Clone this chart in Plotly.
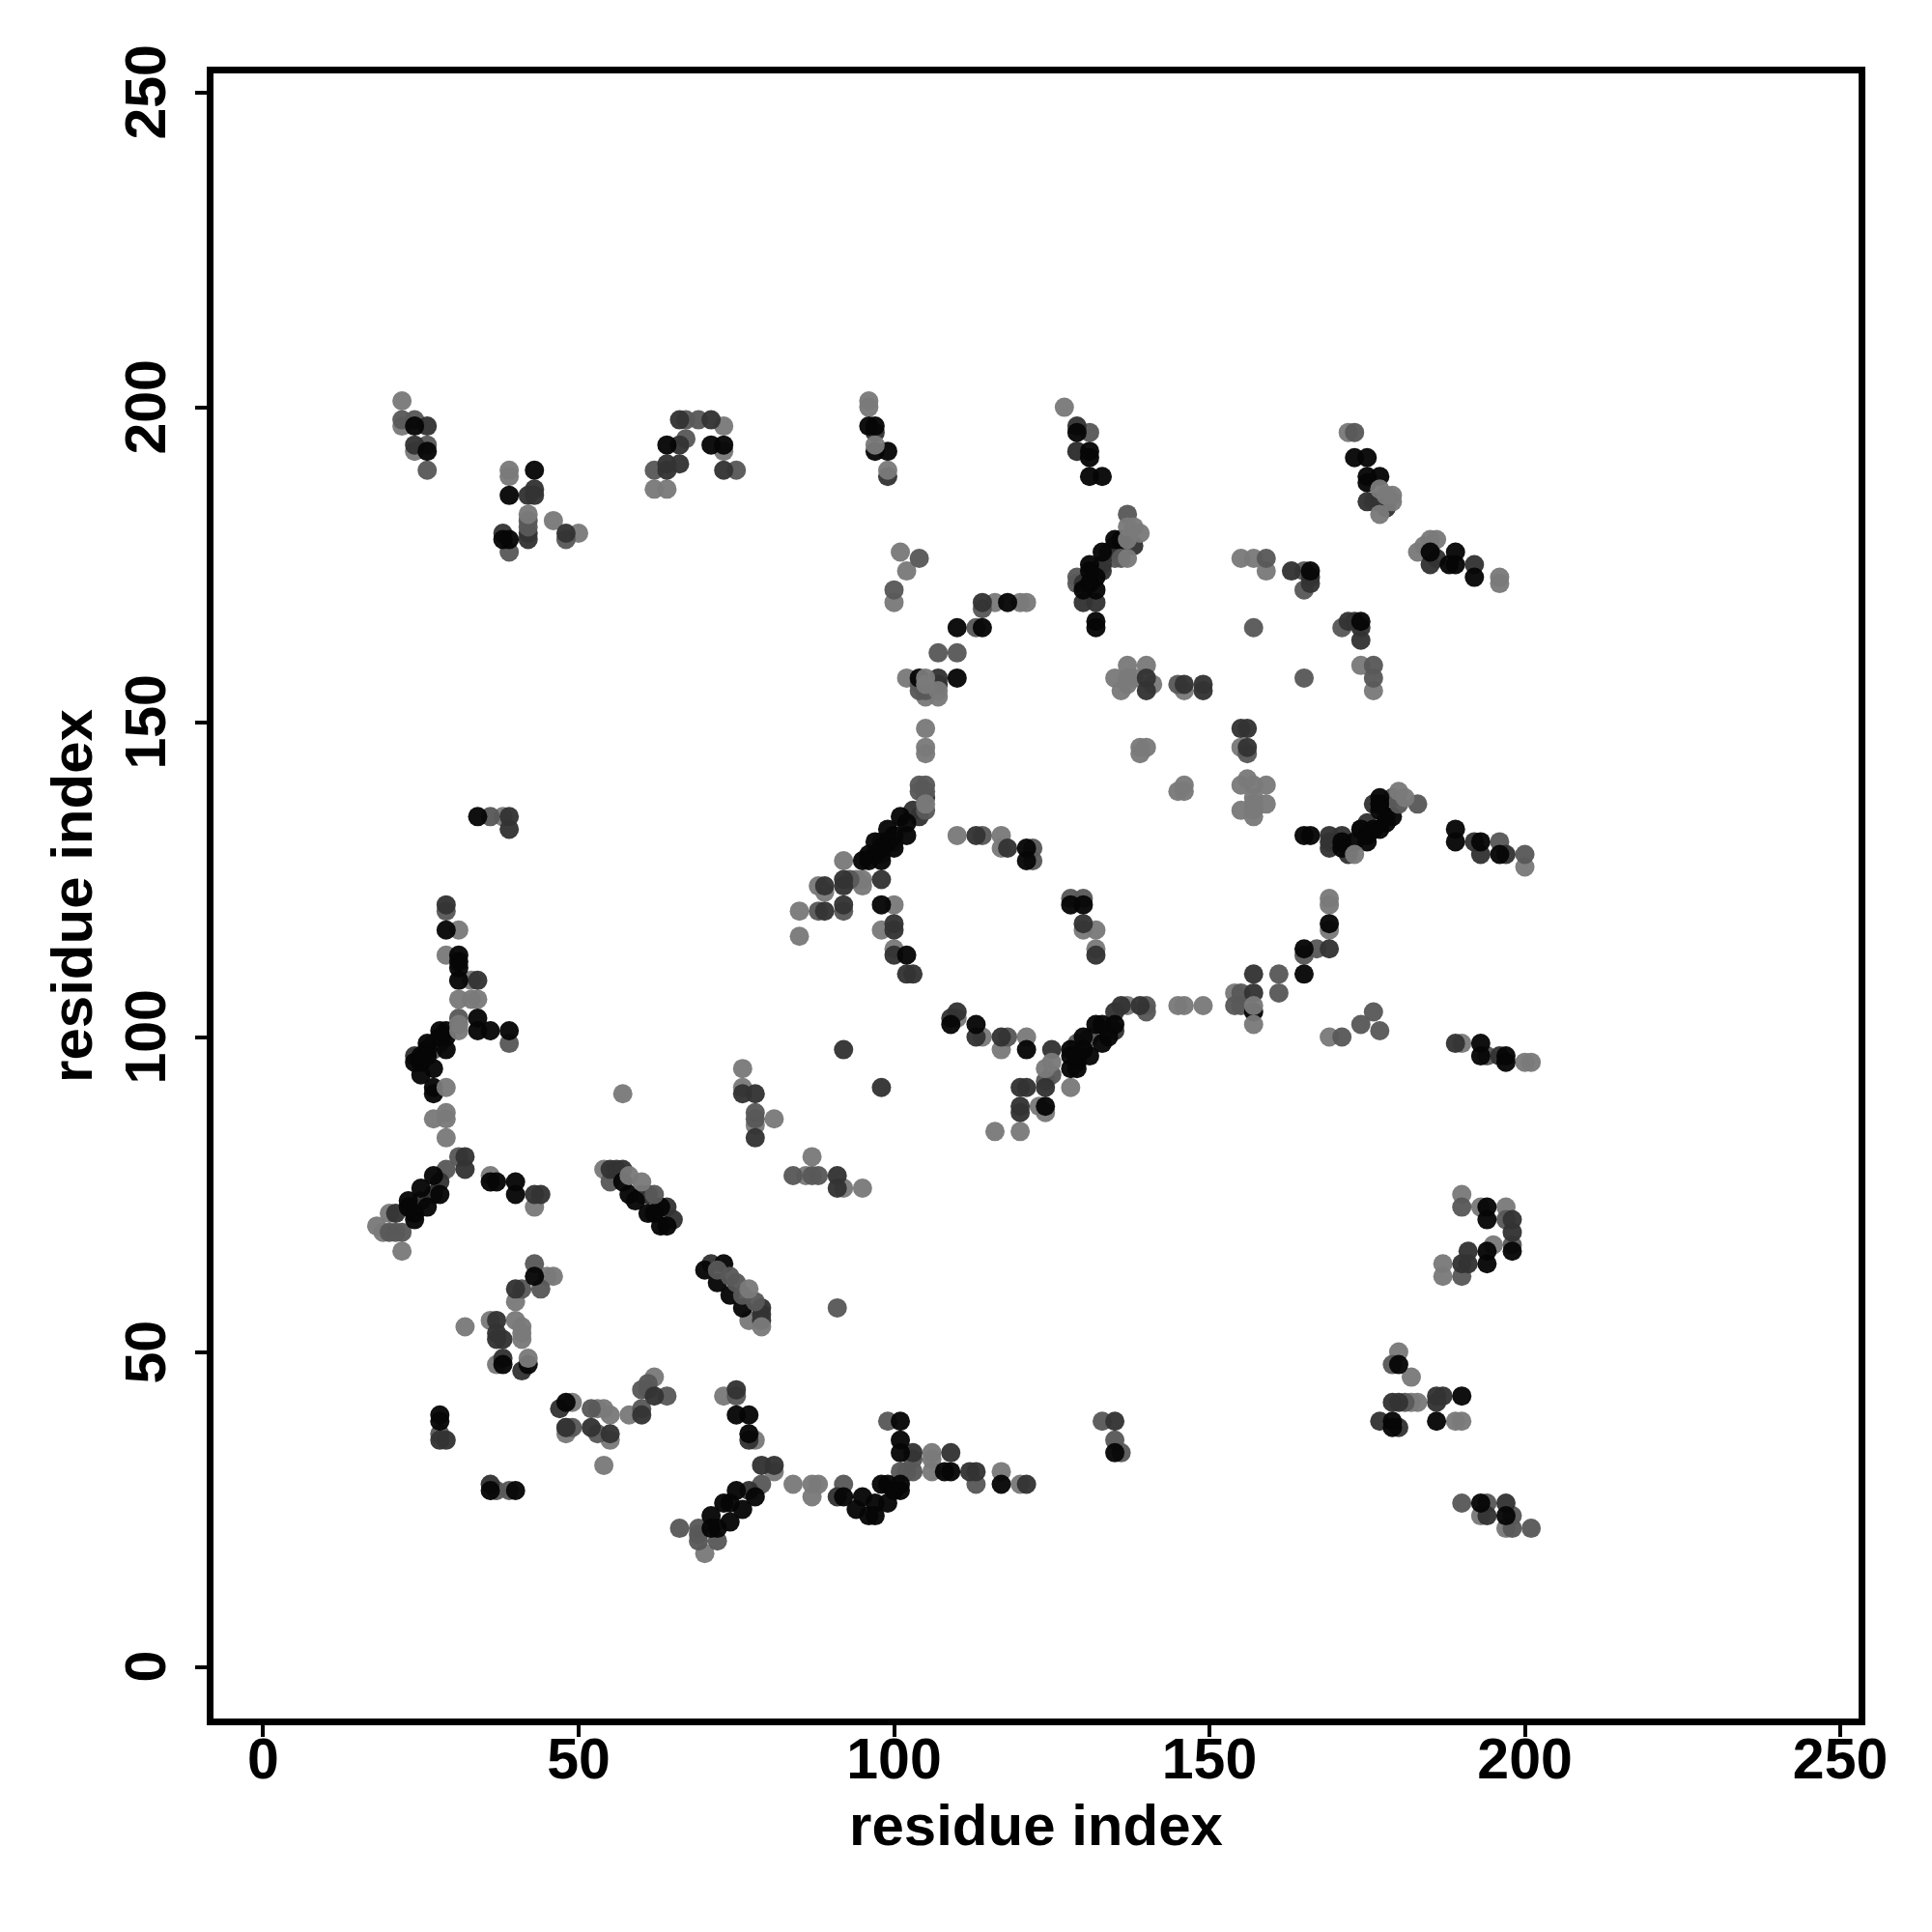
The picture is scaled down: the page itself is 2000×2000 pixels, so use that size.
import plotly.graph_objects as go

light = [(22,201),(22,197),(24,193),(39,190),(39,189),(42,183),(46,182),(50,180),(62,187),(64,187),(73,197),(73,193),(96,201),(96,200),(97,194),(99,190),
(102,174),(100,169),(101,177),(102,157),(105,157),(105,156),(107,155),(105,154),(107,154),(105,146),(105,145),(105,149),(105,137),(92,128),(110,132),(95,125),(94,125),(95,124),(88,124),(89,123),(85,120),(85,116),
(100,121),(98,117),(100,114),(38,135),(31,117),(29,113),(127,200),(137,181),(138,181),(139,180),(137,179),(137,176),(116,169),(120,169),(121,169),
(135,157),(137,159),(140,159),(137,157),(138,157),(141,156),(136,155),(137,156),(146,155),(139,146),(140,146),(139,145),(145,139),(146,140),(146,139),
(155,146),(155,140),(156,141),(159,140),(157,140),(155,136),(157,138),(159,137),(157,137),(157,136),(157,135),(155,176),(157,176),(159,174),(174,159),(176,155),
(172,196),(177,187),(179,186),(179,185),(177,183),(178,186),(183,177),(184,178),(185,179),(186,179),(196,173),(196,172),(180,139),(181,138),(173,129),
(200,127),(117,132),(117,130),(130,117),(132,117),(132,114),(169,122),(169,121),(169,117),
(33,109),(31,106),(33,106),(34,106),(31,101),(31,102),(29,92),(27,87),(29,88),(29,87),(29,84),(76,95),(76,92),(81,87),(78,86),(86,78),(87,81),(92,76),(95,76),
(18,70),(19,69),(20,72),(22,66),(36,78),(43,73),(54,79),(58,78),(60,77),(77,60),(79,54),(77,55),(46,62),(45,62),(40,58),(32,54),(36,55),(40,55),(41,53),(41,52),(41,54),(37,48),(42,49),
(49,42),(48,37),(53,41),(54,41),(55,40),(55,36),(54,32),(58,40),(62,46),(73,43),(78,36),(70,18),(81,31),(84,29),(87,29),(88,29),(87,27),
(106,34),(106,33),(106,31),(114,100),(117,98),(121,100),(117,31),(120,29),(110,103),(120,85),(123,89),(124,88),(125,96),(124,95),(128,92),(137,105),(145,105),(146,105),(149,105),
(154,107),(157,105),(157,102),(169,100),(190,99),(200,96),(201,96),(190,75),(193,73),(197,73),(195,67),(187,64),(187,62),(180,50),(182,46),(182,42),(183,42),(189,39),(190,39),(193,24),(197,22),(116,85),(57,91)]

mid = [(22,198),(24,198),(26,194),(26,190),(42,182),(42,181),(39,177),(48,179),(62,190),(67,198),(67,195),(69,198),(75,190),(104,176),(100,171),(107,161),(110,161),
(104,156),(104,155),(105,155),(104,140),(105,140),(104,139),(105,139),(105,136),(93,125),(88,120),(92,120),(36,135),(29,120),(131,196),(129,193),(137,183),(135,176),(129,173),(129,172),(136,176),
(114,168),(113,165),(145,156),(156,145),(157,165),(159,176),(165,174),(165,171),(165,157),(171,165),(176,159),(176,157),(173,196),(176,185),(183,137),(180,137),(179,138),(196,131),(200,129),(114,132),(122,130),(122,128),(128,122),(130,122),
(165,113),(167,114),(31,103),(39,99),(84,78),(78,88),(78,87),(88,78),(87,78),(29,79),(31,81),(43,64),(44,60),(41,60),(48,38),(49,38),(53,37),(52,41),(60,41),(60,44),(61,44),(61,45),(64,43),(28,37),(37,28),(39,28),(75,43),
(72,63),(74,62),(75,61),(76,59),(78,58),(55,77),(62,75),(69,22),(69,21),(69,20),(72,20),(66,22),(79,29),(92,29),(99,39),(101,31),(102,31),(103,31),(113,29),(118,100),(133,39),(135,36),(136,34),(125,94),(124,93),
(140,105),(140,104),(155,107),(154,105),(155,105),(161,110),(161,107),(176,104),(174,102),(177,101),(171,100),(194,97),(190,73),(197,71),(198,67),(190,62),(179,48),(181,42),(190,26),(194,26),(198,24),(198,22),(201,22),(91,57),(22,69),(20,69),(21,69),(103,33),
(131,100),(129,99),(98,131),(100,131),(98,129),(27,99),(27,98),(28,99)]

dark = [(26,197),(24,194),(38,180),(43,187),(42,186),(43,186),(42,180),(42,179),(48,180),(64,190),(64,191),(66,191),(66,194),(66,198),(71,198),(73,190),(97,196),(99,189),(107,157),(107,156),
(105,138),(104,135),(103,136),(92,125),(98,125),(92,124),(89,124),(89,120),(92,121),(100,118),(100,117),(100,113),(39,135),(39,133),(29,121),(129,197),(129,193),(138,178),(135,178),(136,177),(134,177),(133,175),(133,174),(130,172),(130,169),(132,169),(114,169),
(140,157),(140,155),(146,156),(149,156),(149,155),(155,149),(156,149),(156,146),(163,174),(166,173),(166,172),(172,166),(173,166),(174,165),(174,163),(175,185),(177,185),(178,184),(185,175),(186,176),(192,175),
(169,130),(169,132),(169,131),(171,132),(172,129),(175,134),(176,137),(178,135),(174,133),(193,129),(197,129),(192,131),(113,132),(118,130),(130,118),(132,113),(169,114),
(34,109),(92,98),(98,92),(76,91),(78,91),(78,84),(91,78),(91,76),(21,72),(25,74),(27,75),(28,77),(32,81),(32,79),(43,75),(44,75),(55,79),(56,79),(57,79),(60,75),(61,75),(64,73),(65,71),(71,64),(79,57),(79,56),(79,55),
(40,60),(37,55),(37,53),(37,52),(38,52),(38,49),(41,47),(47,41),(48,38),(52,38),(55,37),(60,40),(62,43),(28,36),(29,36),(36,29),(75,44),(77,36),(79,32),(81,32),(77,28),(91,27),(103,34),(109,34),(112,31),(113,31),(121,29),(135,39),(113,100),(117,100),(120,88),(120,89),(121,92),(120,92),(124,92),(125,98),(135,101),(135,104),(136,105),(139,105),(157,107),(157,110),(102,110),(103,110),(109,103),(110,104),
(189,99),(196,97),(198,71),(198,69),(191,66),(190,64),(191,64),(179,42),(180,42),(177,39),(180,38),(186,43),(187,43),(186,42),(194,24),(197,26),(24,97)]

black = [(24,197),(26,193),(43,190),(39,186),(38,179),(39,179),(64,194),(71,194),(73,194),(96,197),(97,197),(97,193),(99,193),(110,165),(110,157),(104,157),
(101,135),(102,134),(102,132),(99,133),(100,132),(99,131),(100,130),(97,131),(98,130),(96,129),(97,129),(95,128),(96,128),(98,128),(98,121),(102,113),(34,135),(29,117),(31,113),(31,112),(31,109),(31,111),
(129,196),(131,193),(131,192),(131,189),(133,189),(135,179),(136,179),(133,177),(131,175),(131,174),(132,173),(131,172),(132,171),(130,171),(132,166),(132,165),(118,169),(114,165),(166,174),(174,166),(173,192),(175,192),(175,189),(177,189),(175,188),
(185,177),(188,175),(189,175),(189,177),(192,173),(165,132),(166,132),(171,130),(171,131),(173,131),(174,133),(175,131),(175,132),(176,133),(177,133),(177,138),(177,137),(177,136),(178,134),(179,135),(189,133),(189,131),(193,131),(196,129),(121,130),(121,128),(128,121),(130,121),(169,118),(165,114),
(34,103),(34,101),(36,101),(39,101),(28,101),(29,101),(28,100),(29,100),(29,98),(26,99),(26,98),(24,96),(25,97),(25,96),(26,97),(27,95),(25,94),(27,92),(27,91),
(23,74),(23,73),(24,71),(24,72),(25,76),(26,73),(27,78),(28,75),(36,77),(37,77),(40,77),(40,75),(57,77),(58,75),(59,74),(61,72),(62,72),(63,73),(63,70),(64,70),(70,63),(73,64),(72,61),(74,59),(76,57),
(43,62),(38,48),(42,48),(48,42),(28,40),(28,39),(40,28),(36,28),(75,40),(77,40),(77,37),(71,24),(71,22),(72,22),(73,26),(74,23),(74,26),(75,28),(76,25),(78,27),
(92,27),(94,25),(95,27),(96,24),(97,26),(97,24),(99,26),(98,29),(99,29),(100,28),(101,28),(101,29),(101,39),(101,36),(101,34),(109,31),(108,31),(117,29),(135,34),(113,102),(121,98),(124,89),
(128,95),(128,98),(128,97),(129,96),(129,95),(129,97),(130,100),(131,97),(130,98),(132,102),(133,102),(133,99),(134,100),(135,102),(157,104),(165,110),(109,102),
(193,99),(193,97),(197,97),(197,96),(194,73),(194,71),(198,66),(194,66),(194,64),(180,48),(179,39),(179,38),(190,43),(186,39),(193,26),(197,24)]

# points that lie over their darker neighbours in the picture
on_top = {(105,137),(105,136),(104,140),(105,140),(104,139),(105,139),(137,181),(138,181),(139,180),(137,179),(137,176),
          (179,186),(179,185),(178,186),(177,187),(177,183),(180,139),(181,138),(105,157),(105,156),(105,155),(107,155),
          (42,183),(42,182),(42,181),(173,129),(125,96),(124,95),(29,92),(31,106),(31,102),(31,101),(79,54),(77,60),
          (74,62),(75,61),(76,59),(78,58),(72,63),(99,190),(97,194),(62,75),(60,77),(58,78),(157,105),(157,102),(157,137),
          (42,49),(41,52),(183,137),(180,137),(136,176),(137,183)}

x_ticks = [0, 50, 100, 150, 200, 250]
y_ticks = [0, 50, 100, 150, 200, 250]
x_title = "residue index"
y_title = "residue index"
levels = [("#7a7a7a", light), ("#585858", mid), ("#333333", dark), ("#060606", black)]

fig = go.Figure()
def add(color, pts):
    fig.add_trace(go.Scatter(x=[p[0] for p in pts], y=[p[1] for p in pts], mode="markers",
                             marker=dict(color=color, size=20, opacity=0.96, line=dict(width=0)), showlegend=False))
for color, pts in levels:
    add(color, [p for p in pts if p not in on_top])
for color, pts in levels[1::-1]:
    add(color, [p for p in pts if p in on_top])

axis = dict(showgrid=False, zeroline=False, showline=True, linecolor="black", linewidth=7, mirror=True,
            ticks="outside", ticklen=12, tickwidth=4, tickcolor="black",
            tickfont=dict(family="Liberation Sans", size=59, color="black", weight="bold"))
y_labels = [dict(x=0, xref="paper", y=t, yref="y", xshift=-70, text="<b>%d</b>" % t, textangle=-90,
                 showarrow=False, xanchor="center", yanchor="middle",
                 font=dict(family="Liberation Sans", size=59, color="black")) for t in y_ticks]
fig.update_layout(
    width=1984, height=1984, margin=dict(l=212.5, r=67.5, t=67.5, b=212.5), autosize=False,
    paper_bgcolor="white", plot_bgcolor="white",
    font=dict(family="Liberation Sans", color="black"),
    annotations=y_labels,
    xaxis=dict(axis, range=[-7.88, 252.9], tickvals=x_ticks, ticklabelstandoff=-28,
               title=dict(text="<b>%s</b>" % x_title, font=dict(size=60), standoff=18)),
    yaxis=dict(axis, range=[-8.2, 253.0], tickvals=y_ticks, showticklabels=False,
               title=dict(text="<b>%s</b>" % y_title, font=dict(size=60), standoff=90)),
)
fig.write_html("out.html")
